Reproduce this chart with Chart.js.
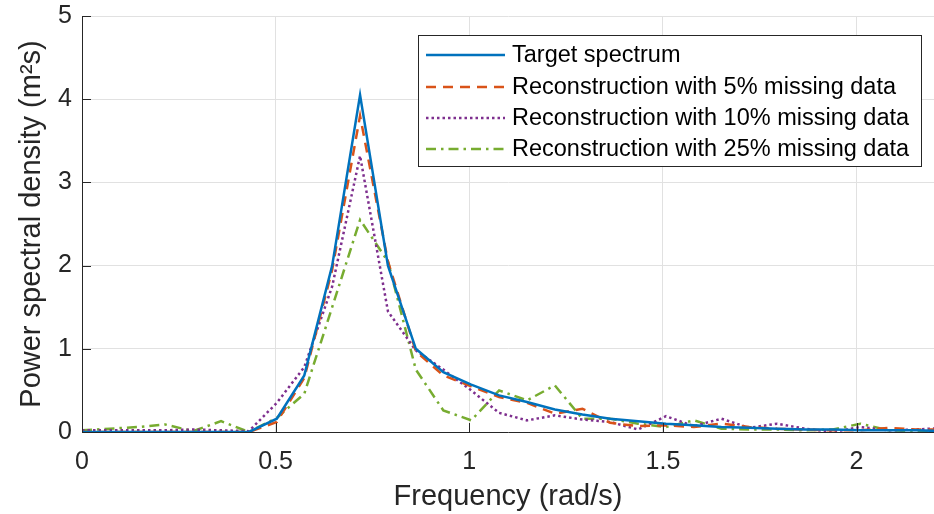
<!DOCTYPE html>
<html>
<head>
<meta charset="utf-8">
<script src="https://cdn.jsdelivr.net/npm/chart.js@4"></script>
<style>
  html, body { margin: 0; padding: 0; background: #fff; }
  #wrap { width: 934px; height: 514px; }
</style>
</head>
<body>
<div id="wrap"><canvas id="myChart" width="934" height="514"></canvas></div>
<script>
// frequency grid (rad/s)
const freq = [0, 0.072, 0.144, 0.215, 0.287, 0.359, 0.431, 0.503, 0.574, 0.646, 0.718, 0.790,
  0.862, 0.933, 1.005, 1.077, 1.149, 1.221, 1.292, 1.364, 1.436, 1.508, 1.580, 1.651,
  1.723, 1.795, 1.867, 1.939, 2.010, 2.082, 2.154, 2.226];

const target = [0, 0, 0, 0, 0, 0, 0, 0.16, 0.68, 2.0, 4.05, 2.0, 1.0, 0.72, 0.57, 0.44,
  0.36, 0.27, 0.21, 0.16, 0.13, 0.10, 0.08, 0.06, 0.05, 0.04, 0.03, 0.03, 0.02, 0.02, 0.02, 0.01];
const miss5 = [0, 0, 0, 0, 0, 0, 0, 0.12, 0.65, 1.95, 3.8, 2.05, 0.97, 0.68, 0.55, 0.42,
  0.35, 0.22, 0.28, 0.11, 0.07, 0.08, 0.06, 0.10, 0.06, 0.04, 0.03, 0.02, 0.02, 0.05, 0.03, 0.03];
const miss10 = [0.02, 0.02, 0.02, 0.02, 0.03, 0.02, 0.01, 0.35, 0.78, 1.75, 3.32, 1.45, 0.98, 0.75, 0.5, 0.23,
  0.14, 0.2, 0.15, 0.12, 0.03, 0.19, 0.07, 0.16, 0.05, 0.10, 0.04, 0.0, 0.06, 0.02, 0.03, 0.05];
const miss25 = [0.02, 0.04, 0.06, 0.09, 0.01, 0.13, 0.0, 0.17, 0.46, 1.5, 2.55, 2.05, 0.75, 0.26, 0.14, 0.5,
  0.38, 0.56, 0.16, 0.16, 0.10, 0.06, 0.14, 0.04, 0.03, 0.03, 0.02, 0.03, 0.10, 0.02, 0.01, 0.01];

const xTicks = [0, 0.5, 1, 1.5, 2];
const yTicks = [0, 1, 2, 3, 4, 5];

const FONT = "'Liberation Sans', Arial, Helvetica, sans-serif";
const pts = ys => ys.map((y, i) => ({ x: freq[i], y: y }));

// legend drawn inside the axes, plus inward tick marks (matlab look)
const insidePlugin = {
  id: 'inside',
  afterDraw(chart) {
    const ctx = chart.ctx;
    const xs = chart.scales.x, ys = chart.scales.y;
    const a = chart.chartArea;
    ctx.save();
    ctx.strokeStyle = '#262626';
    ctx.lineWidth = 1;
    ctx.beginPath();
    xTicks.forEach(v => {
      const px = Math.round(xs.getPixelForValue(v)) + 0.5;
      ctx.moveTo(px, a.bottom); ctx.lineTo(px, a.bottom - 9);
    });
    yTicks.forEach(v => {
      const py = Math.round(ys.getPixelForValue(v)) + 0.5;
      ctx.moveTo(a.left, py); ctx.lineTo(a.left + 9, py);
    });
    ctx.stroke();

    // legend box
    const bx = 418.5, by = 35.5, bw = 503, bh = 131;
    ctx.fillStyle = '#fff';
    ctx.fillRect(bx, by, bw, bh);
    ctx.strokeStyle = '#262626';
    ctx.strokeRect(bx, by, bw, bh);
    const rows = [55, 87, 118, 149];
    ctx.font = '23.5px ' + FONT;
    ctx.textBaseline = 'middle';
    chart.data.datasets.forEach((ds, i) => {
      ctx.beginPath();
      ctx.strokeStyle = ds.borderColor;
      ctx.lineWidth = 2.5;
      ctx.setLineDash(ds.borderDash || []);
      ctx.moveTo(426, rows[i]); ctx.lineTo(505, rows[i]);
      ctx.stroke();
      ctx.setLineDash([]);
      ctx.fillStyle = '#000';
      ctx.fillText(ds.label, 512, rows[i] + 1);
    });
    ctx.restore();
  }
};

const ctx = document.getElementById('myChart').getContext('2d');
const psdChart = new Chart(ctx, {
  type: 'line',
  data: {
    datasets: [{
      label: 'Target spectrum',
      data: pts(target),
      borderColor: '#0072BD',
      borderWidth: 2.5
    }, {
      label: 'Reconstruction with 5% missing data',
      data: pts(miss5),
      borderColor: '#D95319',
      borderWidth: 2.5,
      borderDash: [10, 7]
    }, {
      label: 'Reconstruction with 10% missing data',
      data: pts(miss10),
      borderColor: '#7E2F8E',
      borderWidth: 2.5,
      borderDash: [2.5, 3]
    }, {
      label: 'Reconstruction with 25% missing data',
      data: pts(miss25),
      borderColor: '#77AC30',
      borderWidth: 2.5,
      borderDash: [10, 5, 2.5, 5]
    }]
  },
  options: {
    responsive: false,
    animation: false,
    elements: { point: { radius: 0 }, line: { tension: 0, fill: false } },
    layout: { padding: { top: 16, right: 0, left: 0, bottom: 0 } },
    plugins: { legend: { display: false }, tooltip: { enabled: false } },
    scales: {
      x: {
        type: 'linear',
        min: 0,
        max: 2.2,
        afterBuildTicks: s => { s.ticks = xTicks.map(v => ({ value: v })); },
        afterFit: s => { s.height = 82; },
        grid: { color: '#e1e1e1', drawTicks: false },
        border: { color: '#262626', width: 1 },
        ticks: {
          color: '#262626', padding: 15, font: { family: FONT, size: 25 }, maxRotation: 0,
          callback: v => String(v)
        },
        title: {
          display: true, text: 'Frequency (rad/s)', color: '#262626',
          font: { family: FONT, size: 29 }, padding: { top: 0, bottom: 0 }
        }
      },
      y: {
        min: 0,
        max: 5,
        afterBuildTicks: s => { s.ticks = yTicks.map(v => ({ value: v })); },
        afterFit: s => { s.width = 82; s.paddingTop = 0; s.paddingBottom = 0; },
        grid: { color: '#e1e1e1', drawTicks: false },
        border: { color: '#262626', width: 1 },
        ticks: {
          color: '#262626', padding: 10, font: { family: FONT, size: 25, lineHeight: 0.5 },
          callback: v => String(v)
        },
        title: {
          display: true, text: 'Power spectral density (m\u00b2s)', color: '#262626',
          font: { family: FONT, size: 29 }, padding: { top: 15, bottom: 0 }
        }
      }
    }
  },
  plugins: [insidePlugin]
});
</script>
</body>
</html>
